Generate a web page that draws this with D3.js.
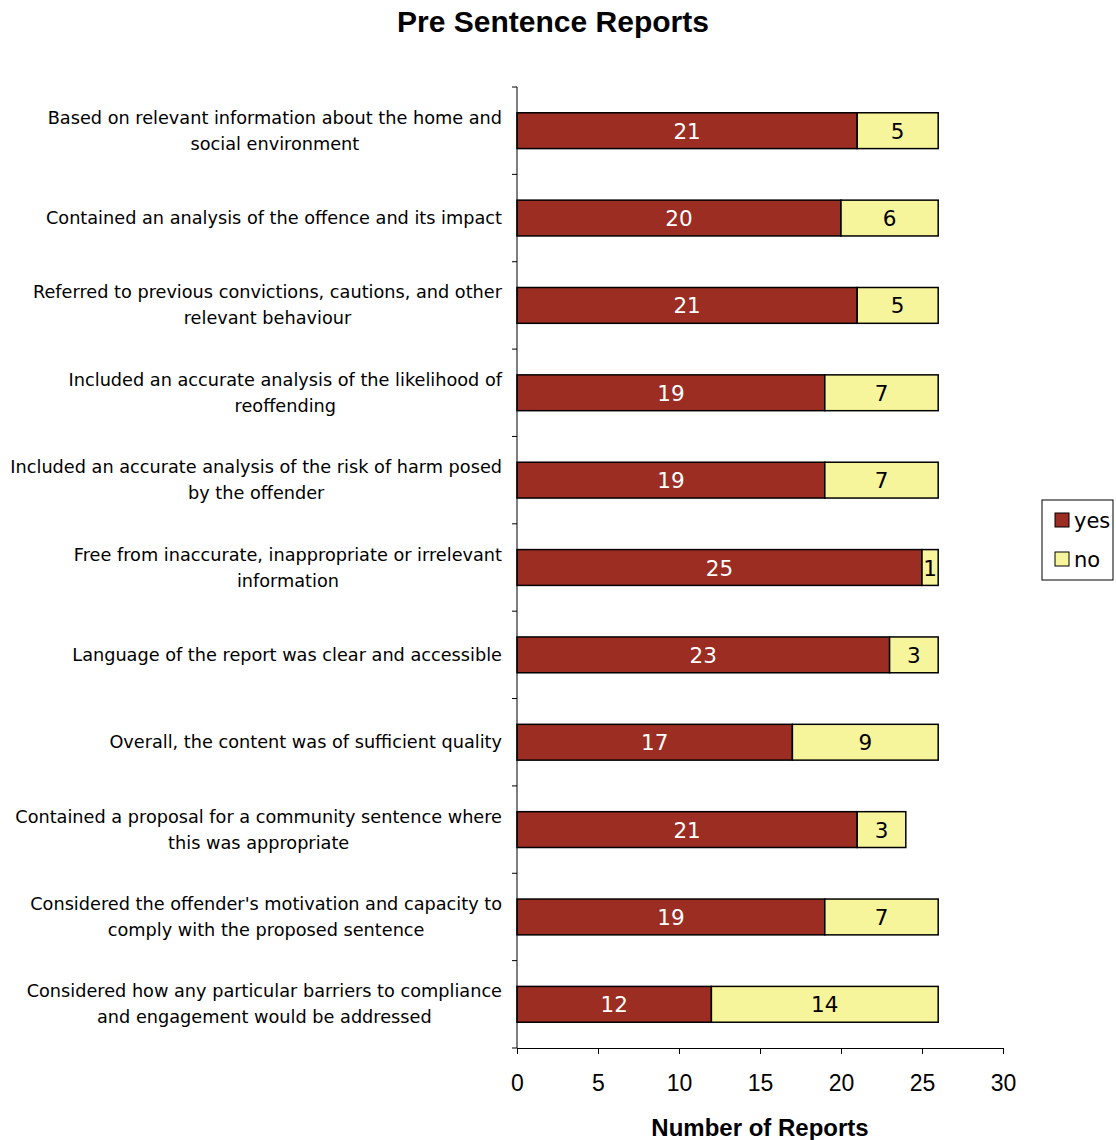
<!DOCTYPE html>
<html>
<head>
<meta charset="utf-8">
<script src="https://cdn.jsdelivr.net/npm/d3@7"></script>
<style>
body { margin: 0; background: #fff; }
svg text { fill: #000; }
</style>
</head>
<body>
<svg width="1116" height="1140"></svg>
<script>
var categories = [
	["Based on relevant information about the home and", "social environment"],
	["Contained an analysis of the offence and its impact"],
	["Referred to previous convictions, cautions, and other", "relevant behaviour"],
	["Included an accurate analysis of the likelihood of", "reoffending"],
	["Included an accurate analysis of the risk of harm posed", "by the offender"],
	["Free from inaccurate, inappropriate or irrelevant", "information"],
	["Language of the report was clear and accessible"],
	["Overall, the content was of sufficient quality"],
	["Contained a proposal for a community sentence where", "this was appropriate"],
	["Considered the offender's motivation and capacity to", "comply with the proposed sentence"],
	["Considered how any particular barriers to compliance", "and engagement would be addressed"]
];
var yesValues = [21, 20, 21, 19, 19, 25, 23, 17, 21, 19, 12];
var noValues = [5, 6, 5, 7, 7, 1, 3, 9, 3, 7, 14];
var xTicks = [0, 5, 10, 15, 20, 25, 30];
var seriesNames = ["yes", "no"];
var colors = {yes: "#9b2d23", no: "#f7f59b"};

var svg = d3.select("svg");
var plotLeft = 517, plotRight = 1003, plotTop = 87, plotBottom = 1048;

var x = d3.scaleLinear().domain([0, 30]).range([plotLeft, plotRight]);
var y = d3.scaleBand().domain(d3.range(categories.length)).range([plotTop, plotBottom]).paddingInner(0.59).paddingOuter(0.295);
var band = d3.scaleBand().domain(d3.range(categories.length)).range([plotTop, plotBottom]);

// title
svg.append("text")
	.attr("x", 553).attr("y", 32)
	.attr("text-anchor", "middle")
	.style("font-family", "Liberation Sans, Arial, sans-serif")
	.style("font-weight", "bold")
	.style("font-size", "30px")
	.text("Pre Sentence Reports");

// bars
var rows = svg.selectAll(".row").data(categories).enter().append("g").attr("class", "row");

rows.append("rect")
	.attr("x", x(0))
	.attr("y", function(d, i) { return y(i); })
	.attr("width", function(d, i) { return x(yesValues[i]) - x(0); })
	.attr("height", y.bandwidth())
	.attr("fill", colors.yes)
	.attr("stroke", "#000").attr("stroke-width", 1.5);

rows.append("rect")
	.attr("x", function(d, i) { return x(yesValues[i]); })
	.attr("y", function(d, i) { return y(i); })
	.attr("width", function(d, i) { return x(yesValues[i] + noValues[i]) - x(yesValues[i]); })
	.attr("height", y.bandwidth())
	.attr("fill", colors.no)
	.attr("stroke", "#000").attr("stroke-width", 1.5);

var valFont = "DejaVu Sans, Verdana, sans-serif";
rows.append("text")
	.attr("x", function(d, i) { return x(yesValues[i] / 2); })
	.attr("y", function(d, i) { return y(i) + y.bandwidth() / 2 + 8; })
	.attr("text-anchor", "middle")
	.style("font-family", valFont).style("font-size", "21.5px")
	.style("fill", "#fff")
	.text(function(d, i) { return yesValues[i]; });

rows.append("text")
	.attr("x", function(d, i) { return x(yesValues[i] + noValues[i] / 2); })
	.attr("y", function(d, i) { return y(i) + y.bandwidth() / 2 + 8; })
	.attr("text-anchor", "middle")
	.style("font-family", valFont).style("font-size", "21.5px")
	.style("fill", "#000")
	.text(function(d, i) { return noValues[i]; });

// category labels, each block centred, right edge at 502
rows.each(function(d, i) {
	var g = d3.select(this);
	var t = g.append("text")
		.style("font-family", "DejaVu Sans, Verdana, sans-serif")
		.style("font-size", "17.7px")
		.attr("text-anchor", "middle");
	var cy = band(i) + band.bandwidth() / 2;
	var lh = 26;
	var spans = t.selectAll("tspan").data(d).enter().append("tspan")
		.attr("y", function(s, j) { return cy + 6 - (d.length - 1) * lh / 2 + j * lh; })
		.text(function(s) { return s; });
	var w = 0;
	spans.each(function() { w = Math.max(w, this.getComputedTextLength()); });
	spans.attr("x", 502 - w / 2);
});

// y axis
var yAxis = svg.append("g");
yAxis.append("line").attr("x1", plotLeft).attr("x2", plotLeft).attr("y1", plotTop).attr("y2", plotBottom)
	.attr("stroke", "#000");
yAxis.selectAll(".yt").data(d3.range(categories.length + 1)).enter().append("line")
	.attr("x1", plotLeft - 5).attr("x2", plotLeft)
	.attr("y1", function(i) { return i < categories.length ? band(i) : plotBottom; })
	.attr("y2", function(i) { return i < categories.length ? band(i) : plotBottom; })
	.attr("stroke", "#000");

// x axis
var xAxis = svg.append("g")
	.attr("transform", "translate(0," + plotBottom + ")")
	.call(d3.axisBottom(x).tickValues(xTicks).tickSize(6).tickPadding(21));
xAxis.select(".domain").attr("stroke", "#000");
xAxis.selectAll("text")
	.style("font-family", "Liberation Sans, Arial, sans-serif")
	.style("font-size", "23px")
	.attr("fill", "#000");

svg.append("text")
	.attr("x", (plotLeft + plotRight) / 2).attr("y", 1136)
	.attr("text-anchor", "middle")
	.style("font-family", "Liberation Sans, Arial, sans-serif")
	.style("font-weight", "bold")
	.style("font-size", "24px")
	.text("Number of Reports");

// legend
var legend = svg.append("g");
legend.append("rect").attr("x", 1042).attr("y", 500).attr("width", 71).attr("height", 80)
	.attr("fill", "#fff").attr("stroke", "#000");
var items = legend.selectAll(".li").data(seriesNames).enter().append("g")
	.attr("transform", function(d, i) { return "translate(1055," + (513 + i * 39) + ")"; });
items.append("rect").attr("width", 14).attr("height", 14)
	.attr("fill", function(d) { return colors[d]; })
	.attr("stroke", "#000");
items.append("text").attr("x", 19).attr("y", 15)
	.style("font-family", "DejaVu Sans, Verdana, sans-serif")
	.style("font-size", "21px")
	.text(function(d) { return d; });
</script>
</body>
</html>
